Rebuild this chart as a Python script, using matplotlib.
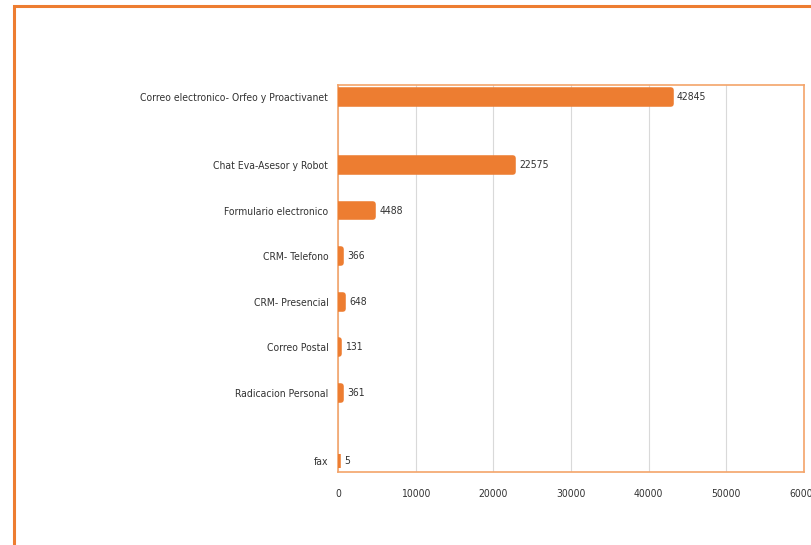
import matplotlib
matplotlib.use("Agg")
from matplotlib import pyplot as plt
from matplotlib.patches import Rectangle

# data
canales = [
  "Correo electronico- Orfeo y Proactivanet",
  "Chat Eva-Asesor y Robot",
  "Formulario electronico",
  "CRM- Telefono",
  "CRM- Presencial",
  "Correo Postal",
  "Radicacion Personal",
  "fax",
]
cantidades = [42845, 22575, 4488, 366, 648, 131, 361, 5]
x_ticks = [0, 10000, 20000, 30000, 40000, 50000, 60000]

# layout: row positions (the gaps are uneven in the original)
filas = [8.0, 6.5, 5.5, 4.5, 3.5, 2.5, 1.5, 0.0]

naranja = "#ed7d31"
texto = "#333333"
plt.rcParams["font.family"] = ["DejaVu Sans"]
plt.rcParams["font.stretch"] = "condensed"

fig = plt.figure(figsize=(8.12, 5.45), dpi=100)
W, H = 812, 545

# outer frame
fig.patches.append(Rectangle((14 / W, -0.1), 1.2, 1 - 6 / H + 0.1,
  transform=fig.transFigure, fill=False, edgecolor=naranja, linewidth=2.2))

ax = fig.add_axes([338 / W, 1 - 472 / H, (804 - 338) / W, (472 - 85) / H])
ax.barh(filas, cantidades, height=0.3, color=naranja, edgecolor=naranja,
  linewidth=4, joinstyle="round", zorder=3)

for y, v in zip(filas, cantidades):
  ax.annotate(str(v), (v, y), xytext=(4.5, 0), textcoords="offset points",
    va="center", ha="left", fontsize=7.5, color=texto)

ax.set_xlim(0, 60000)
ax.set_ylim(-0.24, 8.26)
ax.set_xticks(x_ticks)
ax.set_yticks(filas)
ax.set_yticklabels(canales)
ax.tick_params(length=0, labelsize=7.5, labelcolor=texto)
ax.tick_params(axis="x", pad=12)
ax.tick_params(axis="y", pad=7)
ax.grid(axis="x", color="#d9d9d9", linewidth=0.8, zorder=0)
ax.set_axisbelow(True)
for s in ax.spines.values():
  s.set_color("#f4a46a")
  s.set_linewidth(1.2)

fig.savefig("out.png", dpi=100)
